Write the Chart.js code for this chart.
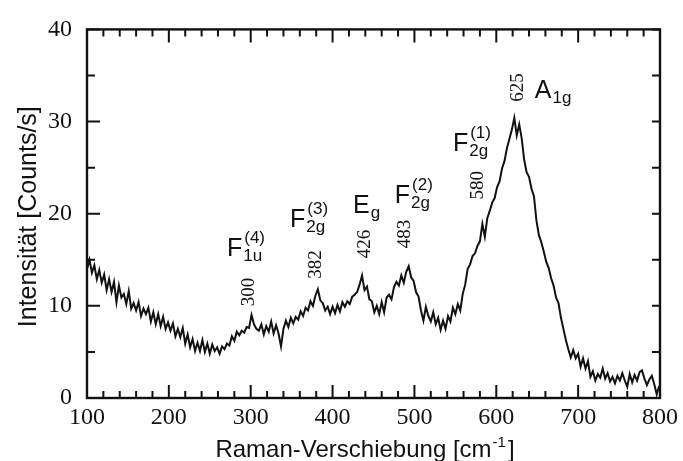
<!DOCTYPE html>
<html>
<head>
<meta charset="utf-8">
<script src="https://cdn.jsdelivr.net/npm/chart.js"></script>
<style>
  html, body { margin: 0; padding: 0; background: #fff; }
  canvas { display: block; }
</style>
</head>
<body>
<canvas id="chart" width="683" height="461"></canvas>
<script>
// Raman-Spektrum, Werte (Schritt 3 cm-1 ab 100)
const shiftStart = 100;
const shiftStep = 3;
const intensity = [
  14.0, 15.0, 13.6, 14.4, 12.9, 13.9, 12.5, 13.4, 11.7, 12.9,
  11.5, 12.6, 10.4, 12.2, 10.9, 11.3, 10.2, 11.6, 9.7, 10.3,
  9.5, 10.4, 8.9, 9.7, 9.1, 9.8, 8.3, 9.3, 8.0, 9.1,
  7.8, 8.8, 7.5, 8.2, 7.3, 8.1, 6.7, 7.5, 6.6, 7.6,
  5.9, 6.9, 5.5, 6.4, 5.1, 6.0, 5.1, 6.3, 5.0, 5.9,
  4.8, 5.8, 5.1, 5.5, 4.8, 5.6, 5.3, 5.9, 5.7, 6.7,
  6.2, 7.2, 6.8, 7.3, 7.1, 7.7, 7.6, 9.0, 8.0, 7.5,
  7.3, 8.0, 6.9, 7.8, 7.2, 8.3, 7.0, 7.9, 7.0, 5.6,
  7.5, 8.4, 7.7, 8.7, 8.1, 8.8, 8.5, 9.4, 8.9, 9.8,
  9.5, 10.5, 10.0, 11.1, 11.8, 10.6, 10.3, 9.5, 9.9, 9.1,
  9.9, 9.2, 10.1, 9.4, 10.4, 9.9, 10.5, 10.2, 11.0, 11.2,
  11.5, 12.3, 13.3, 11.7, 12.1, 10.7, 10.5, 9.3, 10.0, 9.1,
  10.4, 9.3, 10.9, 11.2, 10.7, 12.0, 12.6, 12.2, 13.3, 12.5,
  13.7, 14.3, 13.1, 12.7, 11.5, 11.0, 9.5, 8.4, 9.9, 8.9,
  8.3, 9.3, 8.0, 8.7, 7.4, 8.4, 7.5, 8.9, 8.3, 9.8,
  9.1, 10.2, 9.5, 11.3, 12.3, 14.0, 14.5, 15.4, 15.7, 16.5,
  17.0, 18.9, 17.5, 19.5, 20.3, 21.2, 21.7, 22.9, 23.5, 24.9,
  25.7, 27.1, 28.1, 29.1, 30.4, 28.5, 29.7, 28.2, 25.9, 24.5,
  24.0, 22.7, 21.9, 19.3, 17.7, 16.9, 15.9, 14.8, 14.1, 13.0,
  12.2, 10.9, 10.3, 8.7, 7.5, 6.3, 5.3, 4.4, 5.2, 4.3,
  4.8, 3.4, 4.3, 3.2, 4.0, 2.3, 2.9, 1.9, 2.6, 2.2,
  3.2, 2.1, 2.7, 1.8, 2.3, 1.6, 2.4, 1.9, 2.7, 1.9,
  1.2, 2.6, 1.7, 2.5, 1.9, 2.8, 3.0, 2.1, 1.4, 2.0,
  2.4, 1.5, 0.4, 1.3
];

// Achsen
const xTicks = [100, 200, 300, 400, 500, 600, 700, 800];
const yTicks = [0, 10, 20, 30, 40];

// Peak-Beschriftungen (gedrehte Zahlen)
const peakText = ["300", "382", "426", "483", "580", "625"];
const peakX = [298, 380, 440, 488, 578, 626];
const peakY = [11.5, 14.5, 16.7, 17.8, 23.1, 33.7];

// Moden-Symbole
const modeMain = ["F", "F", "E", "F", "F", "A"];
const modeSub = ["1u", "2g", "g", "2g", "2g", "1g"];
const modeSup = ["(4)", "(3)", "", "(2)", "(1)", ""];
const modeX = [271, 348, 425, 476, 547, 647];
const modeY = [15.45, 18.6, 20.1, 21.2, 26.8, 32.6];

const points = intensity.map((v, i) => ({ x: shiftStart + i * shiftStep, y: v }));

const INK = "#111";

// Rahmen, Ticks nach innen, Beschriftungen
const decor = {
  id: "decor",
  afterDraw(chart) {
    const ctx = chart.ctx;
    const a = chart.chartArea;
    const xs = chart.scales.x;
    const ys = chart.scales.y;
    ctx.save();
    ctx.strokeStyle = INK;
    ctx.fillStyle = INK;
    ctx.lineWidth = 2.4;
    ctx.strokeRect(a.left, a.top, a.right - a.left, a.bottom - a.top);

    ctx.lineWidth = 2;
    ctx.beginPath();
    for (let v = 100; v <= 800; v += 20) {
      const p = xs.getPixelForValue(v);
      const len = v % 100 === 0 ? 13 : 7;
      ctx.moveTo(p, a.bottom); ctx.lineTo(p, a.bottom - len);
      ctx.moveTo(p, a.top); ctx.lineTo(p, a.top + len);
    }
    for (let v = 0; v <= 40; v += 5) {
      const p = ys.getPixelForValue(v);
      const len = v % 10 === 0 ? 13 : 8;
      ctx.moveTo(a.left, p); ctx.lineTo(a.left + len, p);
      ctx.moveTo(a.right, p); ctx.lineTo(a.right - 8, p);
    }
    ctx.stroke();

    // gedrehte Wellenzahlen
    ctx.font = "19px 'Liberation Serif'";
    ctx.textAlign = "center";
    ctx.textBaseline = "middle";
    peakText.forEach((t, i) => {
      ctx.save();
      ctx.translate(xs.getPixelForValue(peakX[i]), ys.getPixelForValue(peakY[i]));
      ctx.rotate(-Math.PI / 2);
      ctx.fillText(t, 0, 0);
      ctx.restore();
    });

    // Moden mit Index
    ctx.textAlign = "left";
    ctx.textBaseline = "alphabetic";
    modeMain.forEach((m, i) => {
      const px = xs.getPixelForValue(modeX[i]);
      const py = ys.getPixelForValue(modeY[i]);
      ctx.font = "25px 'Liberation Sans'";
      ctx.fillText(m, px, py);
      const w = ctx.measureText(m).width;
      ctx.font = "17px 'Liberation Sans'";
      ctx.fillText(modeSub[i], px + w + 1, py + 5);
      if (modeSup[i]) ctx.fillText(modeSup[i], px + w + 2, py - 13);
    });

    // x-Achsentitel
    ctx.font = "24px 'Liberation Sans'";
    const t1 = "Raman-Verschiebung [cm";
    const w1 = ctx.measureText(t1).width;
    ctx.font = "15px 'Liberation Sans'";
    const ws = ctx.measureText("-1").width;
    ctx.font = "24px 'Liberation Sans'";
    const wb = ctx.measureText("]").width;
    const cx = (a.left + a.right) / 2 - 9;
    let sx = cx - (w1 + ws + 2 + wb) / 2;
    const base = 457;
    ctx.fillText(t1, sx, base);
    ctx.font = "15px 'Liberation Sans'";
    ctx.fillText("-1", sx + w1 + 1, base - 10);
    ctx.font = "24px 'Liberation Sans'";
    ctx.fillText("]", sx + w1 + ws + 3, base);

    // y-Achsentitel
    ctx.save();
    ctx.font = "25px 'Liberation Sans'";
    ctx.translate(36, (a.top + a.bottom) / 2 + 3);
    ctx.rotate(-Math.PI / 2);
    ctx.textAlign = "center";
    ctx.fillText("Intensität [Counts/s]", 0, 0);
    ctx.restore();

    ctx.restore();
  }
};

new Chart(document.getElementById("chart").getContext("2d"), {
  type: "line",
  data: {
    datasets: [{
      data: points,
      borderColor: INK,
      borderWidth: 2,
      pointRadius: 0,
      tension: 0,
      fill: false
    }]
  },
  options: {
    responsive: false,
    animation: false,
    events: [],
    layout: { padding: { top: 20, right: 23, left: 0, bottom: 0 } },
    plugins: { legend: { display: false }, tooltip: { enabled: false } },
    scales: {
      x: {
        type: "linear",
        min: 100,
        max: 800,
        afterFit: s => { s.height = 63; },
        afterBuildTicks: s => { s.ticks = xTicks.map(v => ({ value: v })); },
        grid: { display: false, drawTicks: false },
        border: { display: false },
        ticks: {
          color: INK,
          font: { family: "'Liberation Serif'", size: 24 },
          padding: 5,
          maxRotation: 0,
          autoSkip: false
        }
      },
      y: {
        min: 0,
        max: 40,
        afterFit: s => { s.width = 87; },
        afterBuildTicks: s => { s.ticks = yTicks.map(v => ({ value: v })); },
        grid: { display: false, drawTicks: false },
        border: { display: false },
        ticks: {
          color: INK,
          font: { family: "'Liberation Serif'", size: 24 },
          padding: 15
        }
      }
    }
  },
  plugins: [decor]
});
</script>
</body>
</html>
